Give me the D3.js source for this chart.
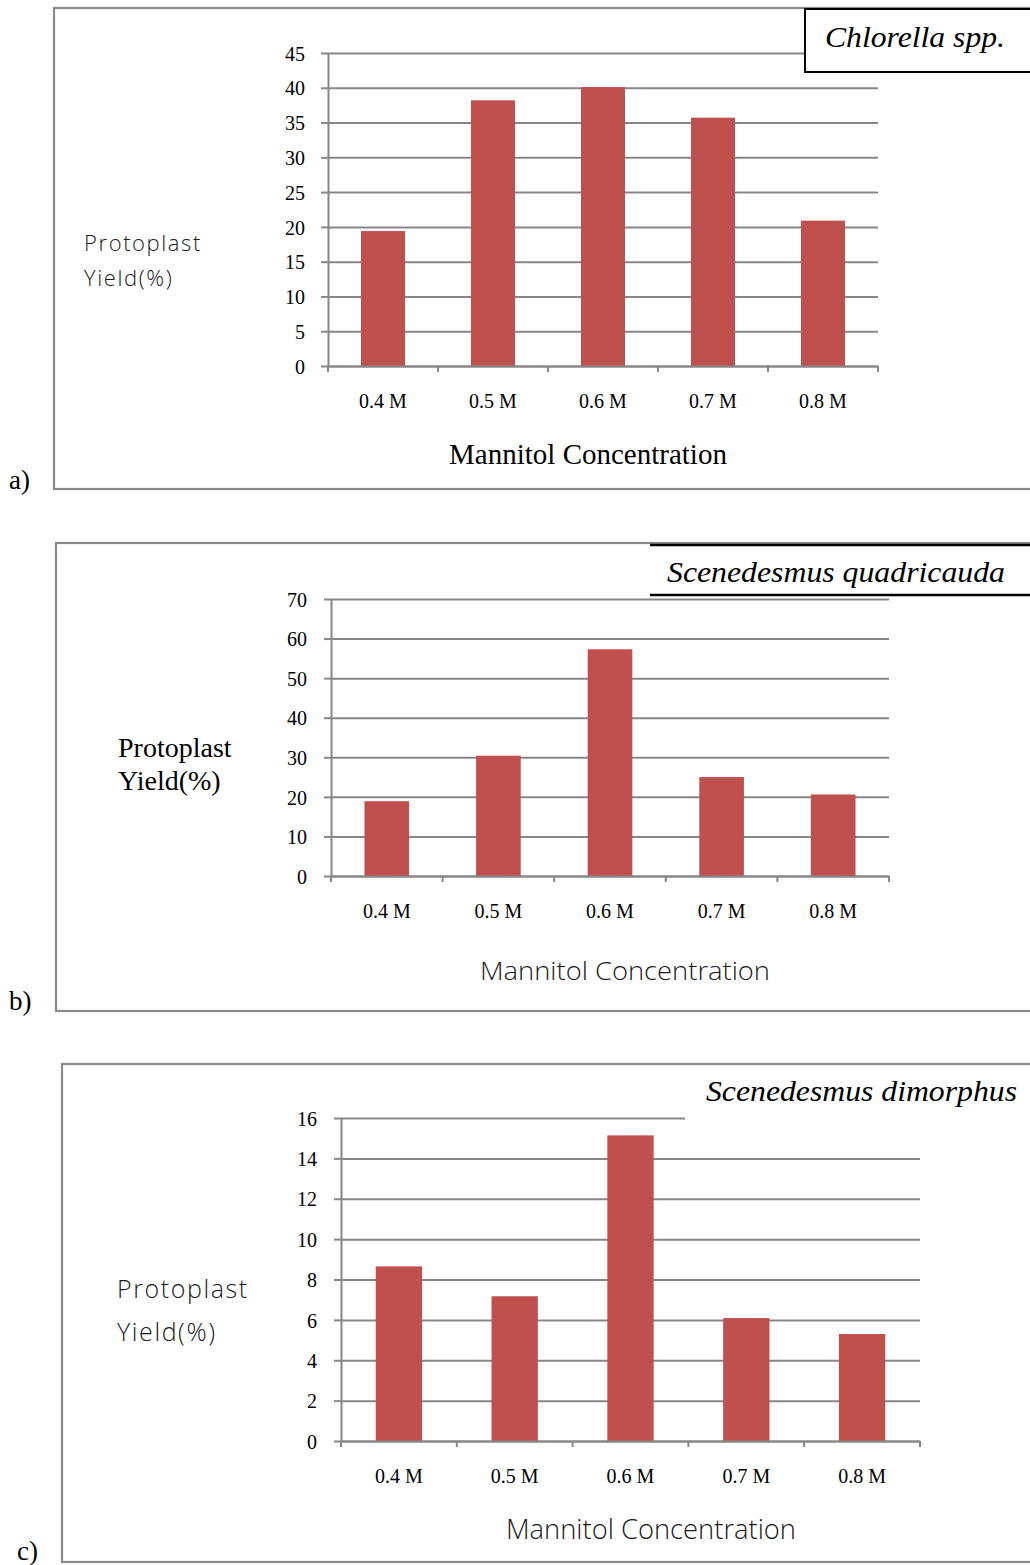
<!DOCTYPE html>
<html><head><meta charset="utf-8">
<script src="https://cdn.jsdelivr.net/npm/d3@7"></script>
<style>html,body{margin:0;padding:0;background:#fff;}svg{display:block;}</style>
</head><body>
<svg id="chart" width="1030" height="1565"></svg>
<script>
const categories = ["0.4 M", "0.5 M", "0.6 M", "0.7 M", "0.8 M"];
const chlorellaValues = [19.4, 38.2, 40.1, 35.7, 20.9];
const quadricaudaValues = [18.9, 30.4, 57.3, 25.0, 20.6];
const dimorphusValues = [8.65, 7.17, 15.14, 6.09, 5.30];
const ticksA = [0, 5, 10, 15, 20, 25, 30, 35, 40, 45];
const ticksB = [0, 10, 20, 30, 40, 50, 60, 70];
const ticksC = [0, 2, 4, 6, 8, 10, 12, 14, 16];
const speciesNames = ["Chlorella spp.", "Scenedesmus quadricauda", "Scenedesmus dimorphus"];
const panelLetters = ["a)", "b)", "c)"];
const yTitleLines = ["Protoplast", "Yield(%)"];
const xTitle = "Mannitol Concentration";

const svg = d3.select("#chart");
const BAR = "#C0504D", GRID = "#878787", FRAME = "#8a8a8a";
const SERIF = "'Liberation Serif','Times New Roman',serif";
const LIGHT = "'Open Sans','Noto Sans',sans-serif";

function panel(o) {
  const g = svg.append("g");
  // frame
  g.append("rect").attr("x", o.frame.x).attr("y", o.frame.y)
    .attr("width", 1100 - o.frame.x).attr("height", o.frame.h)
    .attr("fill", "#fff").attr("stroke", FRAME).attr("stroke-width", 2.2);
  const x = d3.scaleBand().domain(o.cats).range([o.left, o.right]).padding(0);
  const y = d3.scaleLinear().domain([0, o.ticks[o.ticks.length - 1]]).range([o.bottom, o.top]);
  // gridlines
  const grid = g.append("g").attr("transform", `translate(${o.left},0)`)
    .call(d3.axisLeft(y).tickValues(o.ticks).tickSize(-(o.right - o.left)).tickFormat(""));
  grid.select(".domain").remove();
  grid.selectAll("line").attr("stroke", GRID).attr("stroke-width", 2);
  // bars
  const bw = x.bandwidth() * 0.4;
  g.selectAll("rect.bar").data(o.values).join("rect").attr("class", "bar")
    .attr("x", (d, i) => x(o.cats[i]) + (x.bandwidth() - bw) / 2)
    .attr("y", d => y(d)).attr("width", bw).attr("height", d => y(0) - y(d))
    .attr("fill", BAR);
  // y axis
  const ya = g.append("g").attr("transform", `translate(${o.left},0)`)
    .call(d3.axisLeft(y).tickValues(o.ticks).tickSize(7).tickPadding(o.tpad).tickSizeOuter(0));
  ya.select(".domain").attr("stroke", GRID).attr("stroke-width", 2);
  ya.selectAll(".tick line").attr("stroke", GRID).attr("stroke-width", 2);
  ya.selectAll("text").attr("font-family", SERIF).attr("font-size", o.tfs).attr("fill", "#000")
    .attr("dy", "0.36em");
  // x axis
  const xa = g.append("g").attr("transform", `translate(0,${o.bottom})`)
    .call(d3.axisBottom(x).tickSize(0).tickPadding(o.xpad).tickSizeOuter(0));
  xa.select(".domain").attr("stroke", GRID).attr("stroke-width", 2);
  xa.selectAll("text").attr("font-family", SERIF).attr("font-size", o.tfs).attr("fill", "#000");
  // category boundary ticks
  const bounds = o.cats.map(c => x(c)).concat([o.right]);
  g.selectAll("line.bt").data(bounds).join("line").attr("class", "bt")
    .attr("x1", d => d).attr("x2", d => d).attr("y1", o.bottom).attr("y2", o.bottom + 6)
    .attr("stroke", GRID).attr("stroke-width", 2);
  // y title
  yTitleLines.forEach((t, i) => {
    const tx = g.append("text").attr("x", o.yt.x).attr("y", o.yt.y + i * o.yt.lh).text(t);
    if (o.yt.light) {
      tx.attr("font-family", LIGHT).attr("font-weight", 300).attr("font-size", o.yt.fs)
        .attr("fill", "#1a1a1a").attr("letter-spacing", o.yt.ls);
    } else {
      tx.attr("font-family", SERIF).attr("font-size", o.yt.fs).attr("fill", "#000");
    }
  });
  // x title
  const xt = g.append("text").attr("x", o.xt.x).attr("y", o.xt.y).attr("text-anchor", "middle").text(xTitle);
  if (o.xt.light) {
    xt.attr("font-family", LIGHT).attr("font-weight", 300).attr("font-size", o.xt.fs)
      .attr("fill", "#1a1a1a").attr("textLength", o.xt.len).attr("lengthAdjust", "spacingAndGlyphs");
  } else {
    xt.attr("font-family", SERIF).attr("font-size", o.xt.fs).attr("fill", "#000");
  }
  // species title
  const s = o.sp;
  if (s.type === "box") {
    g.append("rect").attr("x", s.bx).attr("y", s.by).attr("width", 1100 - s.bx).attr("height", s.bh)
      .attr("fill", "#fff").attr("stroke", "#000").attr("stroke-width", 2);
  } else if (s.type === "lines") {
    g.append("rect").attr("x", s.bx).attr("y", s.by).attr("width", 1100 - s.bx).attr("height", s.bh)
      .attr("fill", "#fff");
    [s.by, s.by + s.bh].forEach(yy => g.append("line").attr("x1", s.bx).attr("x2", 1030)
      .attr("y1", yy).attr("y2", yy).attr("stroke", "#000").attr("stroke-width", 2.5));
  } else {
    g.append("rect").attr("x", s.bx).attr("y", s.by).attr("width", s.bw).attr("height", s.bh)
      .attr("fill", "#fff");
  }
  g.append("text").attr("x", s.tx).attr("y", s.ty).text(o.name)
    .attr("font-family", SERIF).attr("font-style", "italic").attr("font-size", s.fs)
    .attr("fill", "#000").attr("textLength", s.len).attr("lengthAdjust", "spacingAndGlyphs");
  // panel letter
  g.append("text").attr("x", o.letter.x).attr("y", o.letter.y).text(o.letterText)
    .attr("font-family", SERIF).attr("font-size", 27).attr("fill", "#000");
}

panel({
  cats: categories, values: chlorellaValues, ticks: ticksA, name: speciesNames[0], letterText: panelLetters[0],
  frame: { x: 54, y: 8, h: 481 },
  left: 328, right: 878, top: 53, bottom: 366, tpad: 16, xpad: 28, tfs: 20,
  yt: { x: 84, y: 251, lh: 35, fs: 22, light: true, ls: 1.6 },
  xt: { x: 588, y: 464, fs: 29, light: false },
  sp: { type: "box", bx: 805, by: 9, bh: 63, tx: 825, ty: 47, fs: 30, len: 180 },
  letter: { x: 9, y: 489 }
});
panel({
  cats: categories, values: quadricaudaValues, ticks: ticksB, name: speciesNames[1], letterText: panelLetters[1],
  frame: { x: 56, y: 543, h: 468 },
  left: 331, right: 889, top: 599, bottom: 876, tpad: 17, xpad: 28, tfs: 20,
  yt: { x: 118, y: 757, lh: 33, fs: 28, light: false },
  xt: { x: 625, y: 980, fs: 26, light: true, len: 290 },
  sp: { type: "lines", bx: 650, by: 545, bh: 50, tx: 667, ty: 582, fs: 30, len: 338 },
  letter: { x: 9, y: 1010 }
});
panel({
  cats: categories, values: dimorphusValues, ticks: ticksC, name: speciesNames[2], letterText: panelLetters[2],
  frame: { x: 62, y: 1064, h: 498 },
  left: 341, right: 920, top: 1118, bottom: 1441, tpad: 17, xpad: 28, tfs: 20,
  yt: { x: 117, y: 1298, lh: 43, fs: 25, light: true, ls: 1.6 },
  xt: { x: 651, y: 1539, fs: 27, light: true, len: 290 },
  sp: { type: "plain", bx: 685, by: 1066, bw: 240, bh: 56, tx: 706, ty: 1101, fs: 30, len: 311 },
  letter: { x: 17, y: 1560 }
});
</script>
</body></html>
